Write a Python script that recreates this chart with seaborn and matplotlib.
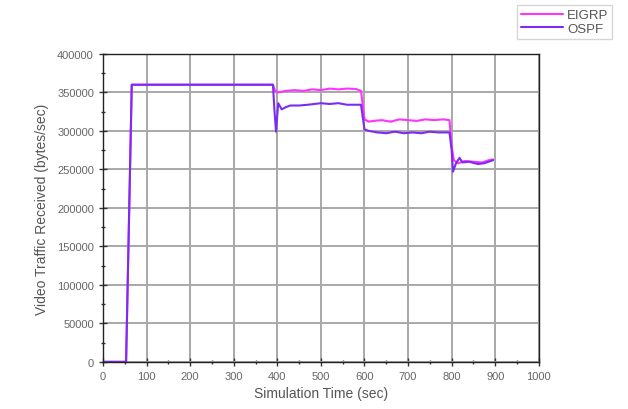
import numpy as np
import pandas as pd
import matplotlib
matplotlib.use("Agg")
import matplotlib.pyplot as plt
import seaborn as sns
from matplotlib.ticker import MultipleLocator

# ---- data ----
eigrp_t = [0, 10, 20, 30, 40, 50, 53, 66, 100, 200, 300, 390,
           395, 400, 410, 420, 440, 460, 480, 500, 520, 540, 560, 580, 592,
           600, 610, 620, 640, 660, 680, 700, 720, 740, 760, 780, 795,
           800, 805, 815, 830, 850, 870, 885, 895]
eigrp_v = [0, 0, 0, 0, 0, 0, 0, 360000, 360000, 360000, 360000, 360000,
           352000, 350000, 351000, 352000, 353000, 352000, 354000, 353000, 355000, 354000, 355000, 354500, 352000,
           315000, 312000, 313000, 314000, 312000, 315000, 314000, 313000, 315000, 314000, 315000, 314000,
           280000, 262000, 258000, 261000, 260000, 259000, 262000, 263000]

ospf_t = [0, 10, 20, 30, 40, 50, 53, 66, 100, 200, 300, 390,
          393, 397, 402, 410, 420, 430, 450, 470, 500, 520, 540, 560, 580, 592,
          600, 610, 630, 650, 670, 690, 710, 730, 750, 770, 795,
          800, 803, 810, 818, 825, 840, 860, 875, 885, 895]
ospf_v = [0, 0, 0, 0, 0, 0, 0, 360000, 360000, 360000, 360000, 360000,
          330000, 299000, 336000, 328000, 331000, 333000, 333000, 334000, 336000, 335000, 336000, 334000, 334000, 334000,
          302000, 300000, 298000, 297000, 299000, 297000, 298000, 297000, 299000, 298000, 298000,
          275000, 247000, 258000, 265000, 259000, 260000, 257000, 258000, 260000, 262000]

series_names = ["EIGRP", "OSPF"]
x_label = "Simulation Time (sec)"
y_label = "Video Traffic Received (bytes/sec)"

df = pd.concat([
    pd.DataFrame({"t": eigrp_t, "v": eigrp_v, "Protocol": "EIGRP"}),
    pd.DataFrame({"t": ospf_t, "v": ospf_v, "Protocol": "OSPF"}),
])

sns.set_style("white")
plt.rcParams["font.family"] = ["Liberation Sans", "DejaVu Sans"]

fig = plt.figure(figsize=(6.28, 4.10), dpi=100)
ax = fig.add_axes([0.164, 0.115, 0.694, 0.751])

palette = {"EIGRP": "#ff33ff", "OSPF": "#7a2cf2"}
sns.lineplot(data=df, x="t", y="v", hue="Protocol", palette=palette,
             hue_order=series_names, linewidth=1.5, ax=ax, sort=False,
             estimator=None)

ax.set_xlim(0, 1000)
ax.set_ylim(0, 400000)
ax.xaxis.set_major_locator(MultipleLocator(100))
ax.xaxis.set_minor_locator(MultipleLocator(50))
ax.yaxis.set_major_locator(MultipleLocator(50000))
ax.yaxis.set_minor_locator(MultipleLocator(25000))
ax.grid(True, which="major", color="#a8a8a8", linewidth=1.4)
ax.set_axisbelow(True)

ax.tick_params(which="major", direction="inout", length=6, width=1, color="#333333",
               labelsize=8, labelcolor="#666666", left=True, bottom=True)
ax.tick_params(which="minor", direction="inout", length=3, width=1, color="#333333",
               left=True, bottom=True)
for s in ax.spines.values():
    s.set_color("#222222")
    s.set_linewidth(1.0)

ax.set_xlabel(x_label, fontsize=10, color="#555555", labelpad=4)
ax.set_ylabel(y_label, fontsize=10, color="#555555", labelpad=6)

handles, labels = ax.get_legend_handles_labels()
ax.legend(handles, labels, loc="upper right", bbox_to_anchor=(0.975, 0.985),
          bbox_transform=fig.transFigure, frameon=True, fancybox=False,
          edgecolor="#cccccc", fontsize=9.5, handlelength=3.2, borderpad=0.3,
          labelspacing=0.1, handletextpad=0.3, borderaxespad=0)
leg = ax.get_legend()
for t in leg.get_texts():
    t.set_color("#555555")

fig.savefig("out.png", dpi=100)
